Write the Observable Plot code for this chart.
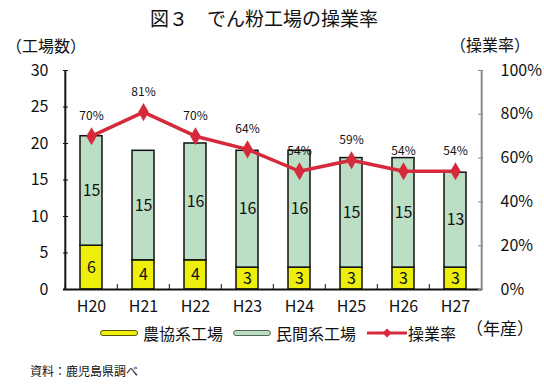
<!DOCTYPE html>
<html><head><meta charset="utf-8">
<script src="https://cdn.jsdelivr.net/npm/d3@7"></script>
<script src="https://cdn.jsdelivr.net/npm/@observablehq/plot@0.6"></script>
<style>
body{margin:0;background:#fff;font-family:"Noto Sans CJK JP","Noto Sans",sans-serif;}
#wrap{position:relative;width:544px;height:386px;overflow:hidden;background:#fff}
#chart{position:absolute;left:0;top:0}
.abs{position:absolute;white-space:nowrap;line-height:1;color:#111}
.sw{position:absolute;height:6px;border-radius:3px;box-sizing:border-box}
</style></head><body>
<div id="wrap">
  <div id="chart"></div>
  <div class="abs" style="left:0;width:528px;text-align:center;top:8px;font-size:19px">図３　でん粉工場の操業率</div>
  <div class="abs" style="left:6px;top:37px;font-size:16px">（工場数）</div>
  <div class="abs" style="left:450px;top:36px;font-size:16px">（操業率）</div>
  <div id="legend"></div>
  <div class="abs" style="left:466px;top:319px;font-size:17px">（年産）</div>
  <div class="abs" style="left:30px;top:365px;font-size:12px">資料：鹿児島県調べ</div>
</div>
<script>
const years = ["H20","H21","H22","H23","H24","H25","H26","H27"];
const noukyo = [6,4,4,3,3,3,3,3];
const minkan = [15,15,16,16,16,15,15,13];
const rate = [70,81,70,64,54,59,54,54];
const seriesNames = ["農協系工場","民間系工場"];
const lineName = "操業率";
const leftTicks = [0,5,10,15,20,25,30];
const rightTicks = [0,20,40,60,80,100];

const yellow = "#eeee0c", green = "#bcdec4", red = "#d52a3c";
const W = 544, H = 386, mL = 63, mR = 62, mT = 70, mB = 97;
const half = (W - mL - mR) / years.length / 2;
const yMax = 30;
const toY = r => r * yMax / 100;

const long = [];
years.forEach((y, i) => {
  long.push({year: y, type: seriesNames[0], value: noukyo[i]});
  long.push({year: y, type: seriesNames[1], value: minkan[i]});
});

const plot = Plot.plot({
  width: W, height: H,
  marginLeft: mL, marginRight: mR, marginTop: mT, marginBottom: mB,
  style: {fontFamily: '"Noto Sans CJK JP","Noto Sans",sans-serif', color: "#111", background: "transparent", overflow: "visible"},
  x: {domain: years, paddingInner: 0.58, paddingOuter: 0.29},
  y: {domain: [0, yMax]},
  color: {domain: seriesNames, range: [yellow, green]},
  marks: [
    Plot.barY(long, {x: "year", y: "value", fill: "type", stroke: "#111", strokeWidth: 1.5}),
    Plot.text(long, Plot.stackY({x: "year", y: "value", text: "value", fontSize: 16, fill: "#111"})),
    Plot.ruleY([0], {stroke: "#111", strokeWidth: 2}),
    Plot.ruleX([years[0]], {dx: -half, y1: 0, y2: yMax, stroke: "#111", strokeWidth: 2}),
    Plot.ruleX([years[years.length-1]], {dx: half, y1: 0, y2: yMax, stroke: "#8a8a8a", strokeWidth: 2}),
    Plot.axisY({ticks: leftTicks, tickSize: 0, tickPadding: 15, fontSize: 16, label: null}),
    Plot.axisY({ticks: leftTicks, tickSize: -5, tickFormat: () => "", label: null, stroke: "#111"}),
    Plot.axisY({anchor: "right", ticks: rightTicks.map(toY), tickSize: 0, tickPadding: 18, fontSize: 16, label: null,
      tickFormat: v => Math.round(v * 100 / yMax) + "%"}),
    Plot.axisY({anchor: "right", ticks: rightTicks.map(toY), tickSize: -5, tickFormat: () => "", label: null, stroke: "#8a8a8a"}),
    Plot.axisX({tickSize: 0, tickPadding: 11, fontSize: 16, label: null}),
    Plot.axisX({tickSize: -5, dx: -half, tickFormat: () => "", label: null, stroke: "#111"}),
    Plot.line(years, {x: d => d, y: (d, i) => toY(rate[i]), stroke: red, strokeWidth: 3.5}),
    Plot.dot(years, {x: d => d, y: (d, i) => toY(rate[i]), symbol: "diamond", r: 5.5, fill: red}),
    Plot.text(years, {x: d => d, y: (d, i) => toY(rate[i]), text: (d, i) => rate[i] + "%", dy: -20, fontSize: 12, fill: "#111"})
  ]
});
document.getElementById("chart").appendChild(plot);

// legend
const lg = document.getElementById("legend");
const items = [
  {left: 100, kind: "box", fill: yellow, border: "#555511", label: seriesNames[0]},
  {left: 233, kind: "box", fill: green, border: "#556655", label: seriesNames[1]},
  {left: 367, kind: "line", fill: red, label: lineName}
];
items.forEach(it => {
  if (it.kind === "box") {
    const s = document.createElement("div");
    s.className = "sw";
    s.style.cssText = `left:${it.left}px;top:330px;width:38px;background:${it.fill};border:1.5px solid ${it.border}`;
    lg.appendChild(s);
  } else {
    const s = document.createElementNS("http://www.w3.org/2000/svg", "svg");
    s.setAttribute("width", 40); s.setAttribute("height", 12);
    s.style.cssText = `position:absolute;left:${it.left}px;top:327px`;
    s.innerHTML = `<line x1="0" y1="6" x2="40" y2="6" stroke="${it.fill}" stroke-width="3"/><path d="M20,1.5L24.5,6L20,10.5L15.5,6Z" fill="${it.fill}"/>`;
    lg.appendChild(s);
  }
  const t = document.createElement("div");
  t.className = "abs";
  t.style.cssText = `left:${it.left + (it.kind === "box" ? 43 : 41)}px;top:325px;font-size:16px`;
  t.textContent = it.label;
  lg.appendChild(t);
});
</script>
</body></html>
